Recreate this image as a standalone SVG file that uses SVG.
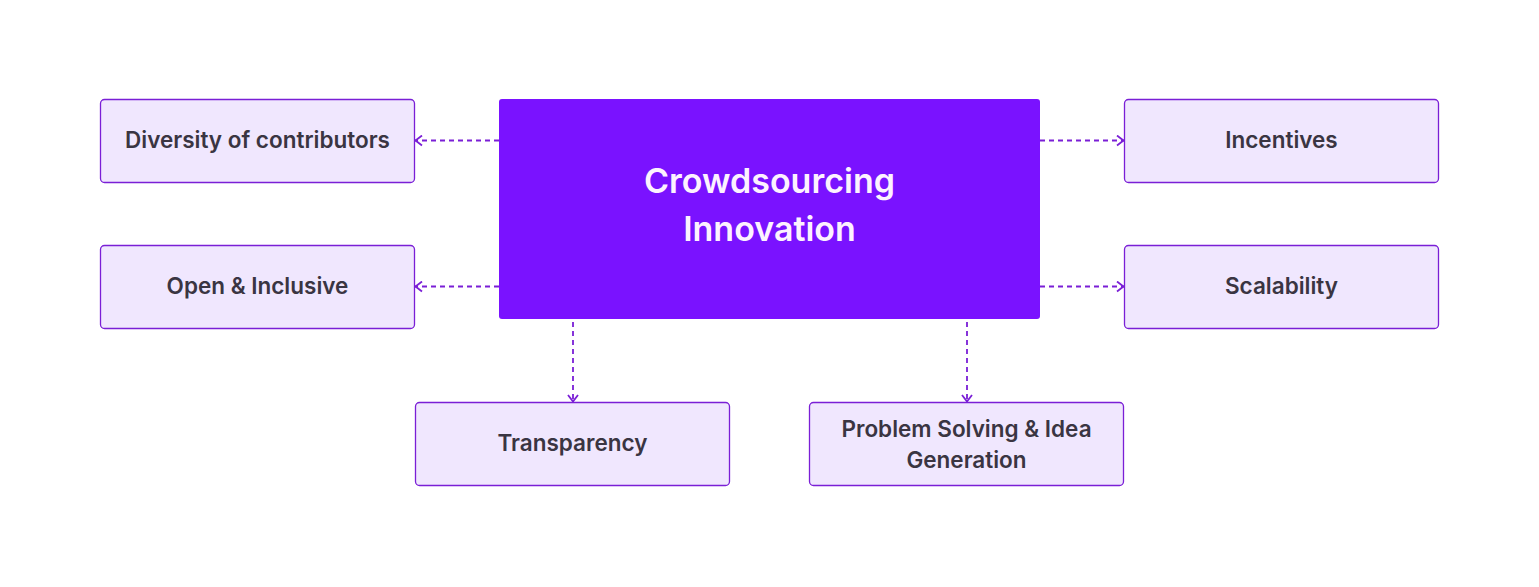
<svg xmlns="http://www.w3.org/2000/svg" width="1539" height="587" viewBox="0 0 1539 587">
<defs>
<style>
.node rect{fill:#f0e7fe;stroke:#7a1fd6;stroke-width:1.3}
.node text{font-family:Inter,"Liberation Sans",sans-serif;font-weight:600;font-size:22.5px;fill:#3a3542;text-anchor:middle}
.hub rect{fill:#7a12ff}
.hub text{font-family:Inter,"Liberation Sans",sans-serif;font-weight:600;font-size:34px;fill:#fdf2ff;text-anchor:middle}
.conn line{stroke:#7a1fd6;stroke-width:1.8;stroke-dasharray:5 4;fill:none}
</style>
<marker id="arr" viewBox="0 0 12 12" refX="11" refY="6" markerWidth="12" markerHeight="12" markerUnits="userSpaceOnUse" orient="auto">
<path d="M4,1 L10.5,6 L4,11" fill="none" stroke="#7a1fd6" stroke-width="1.8"/>
</marker>
</defs>
<rect width="1539" height="587" fill="#ffffff"/>
<g id="connectors" class="conn">
<line x1="499" y1="140.5" x2="415" y2="140.5" marker-end="url(#arr)"/>
<line x1="499" y1="286.5" x2="415" y2="286.5" marker-end="url(#arr)"/>
<line x1="1040" y1="140.5" x2="1124" y2="140.5" marker-end="url(#arr)"/>
<line x1="1040" y1="286.5" x2="1124" y2="286.5" marker-end="url(#arr)"/>
<line x1="573" y1="322" x2="573" y2="402" marker-end="url(#arr)"/>
<line x1="967" y1="322" x2="967" y2="402" marker-end="url(#arr)"/>
</g>
<g id="hub" class="hub">
<rect x="499" y="99" width="541" height="220" rx="3"/>
<text x="769.5" y="193">Crowdsourcing</text>
<text x="769.5" y="241">Innovation</text>
</g>
<g id="n-diversity" class="node">
<rect x="100.5" y="99.5" width="314" height="83" rx="4"/>
<text x="257.5" y="148">Diversity of contributors</text>
</g>
<g id="n-open" class="node">
<rect x="100.5" y="245.5" width="314" height="83" rx="4"/>
<text x="257.5" y="294">Open &amp; Inclusive</text>
</g>
<g id="n-incentives" class="node">
<rect x="1124.5" y="99.5" width="314" height="83" rx="4"/>
<text x="1281.5" y="148">Incentives</text>
</g>
<g id="n-scalability" class="node">
<rect x="1124.5" y="245.5" width="314" height="83" rx="4"/>
<text x="1281.5" y="294">Scalability</text>
</g>
<g id="n-transparency" class="node">
<rect x="415.5" y="402.5" width="314" height="83" rx="4"/>
<text x="572.5" y="451">Transparency</text>
</g>
<g id="n-problem" class="node">
<rect x="809.5" y="402.5" width="314" height="83" rx="4"/>
<text x="966.5" y="437">Problem Solving &amp; Idea</text>
<text x="966.5" y="468">Generation</text>
</g>
</svg>
